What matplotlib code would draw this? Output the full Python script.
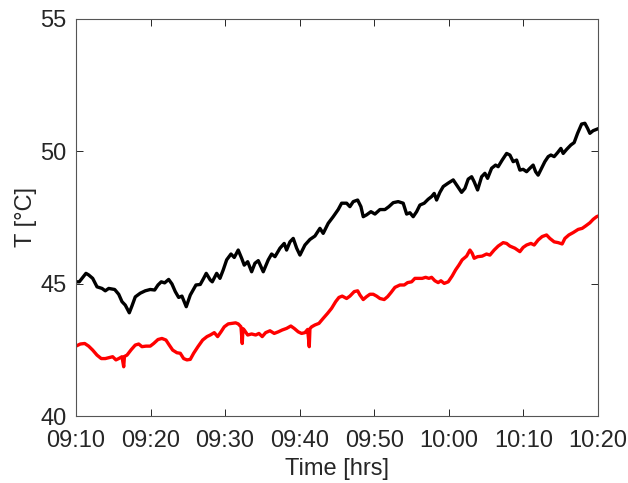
import matplotlib
matplotlib.use("Agg")
import matplotlib.pyplot as plt
import matplotlib.dates as mdates
import pandas as pd

# Start of the logging window; time values below are minutes after this
T0 = pd.Timestamp("2020-01-01 09:10")

upper_min = [0.0, 0.44, 1.34, 1.70, 2.24, 2.82, 3.49, 3.93, 4.39, 5.19, 5.73, 6.17, 6.61, 7.15, 7.51,
             7.95, 8.62, 9.29, 9.96, 10.55, 11.00, 11.44, 11.89, 12.43, 12.87, 13.32, 13.77, 14.21,
             14.79, 15.33, 16.09, 16.67, 17.12, 17.47, 18.01, 18.28, 18.87, 19.31, 19.75, 20.21,
             20.79, 21.23, 21.76, 22.22, 22.57, 23.03, 23.56, 24.00, 24.45, 25.12, 25.79, 26.24,
             26.69, 27.36, 27.93, 28.25, 28.70, 29.14, 29.60, 30.04, 30.71, 31.38, 32.05, 32.72,
             33.16, 33.83, 34.50, 35.17, 35.63, 36.30, 36.74, 37.19, 37.78, 38.22, 38.53, 38.98,
             39.56, 40.10, 40.77, 41.44, 41.97, 42.55, 43.22, 43.89, 44.35, 44.79, 45.23, 45.69,
             46.13, 46.71, 47.24, 47.70, 48.05, 48.37, 48.81, 49.26, 49.93, 50.60, 51.19, 51.72,
             52.17, 52.61, 53.07, 53.41, 53.87, 54.41, 54.85, 55.21, 55.75, 56.28, 56.63, 57.17,
             57.76, 58.20, 58.64, 59.10, 59.54, 59.98, 60.44, 60.88, 61.32, 61.65, 61.99, 62.45,
             62.89, 63.34, 63.70, 64.14, 64.60, 65.04, 65.35, 65.80, 66.38, 66.82, 67.28, 67.82,
             68.26, 68.62, 68.93, 69.37, 69.83, 70.0]
upper_T = [45.07, 45.07, 45.39, 45.33, 45.20, 44.88, 44.82, 44.73, 44.82, 44.78, 44.60, 44.32, 44.19,
           43.90, 44.16, 44.50, 44.64, 44.73, 44.78, 44.76, 44.95, 45.07, 45.03, 45.16, 44.99, 44.70,
           44.48, 44.53, 44.13, 44.57, 44.95, 44.97, 45.20, 45.39, 45.14, 45.07, 45.39, 45.20, 45.52,
           45.90, 46.12, 45.99, 46.27, 45.96, 45.70, 45.83, 45.45, 45.77, 45.87, 45.45, 45.90, 46.12,
           46.02, 46.34, 46.52, 46.27, 46.58, 46.71, 46.34, 46.08, 46.46, 46.67, 46.80, 47.09, 46.90,
           47.28, 47.53, 47.80, 48.04, 48.04, 47.91, 48.10, 48.16, 47.91, 47.53, 47.60, 47.72, 47.63,
           47.80, 47.80, 47.91, 48.06, 48.10, 48.04, 47.63, 47.68, 47.53, 47.72, 47.97, 48.04, 48.19,
           48.29, 48.41, 48.16, 48.45, 48.67, 48.80, 48.92, 48.67, 48.45, 48.60, 48.95, 49.04, 48.85,
           48.54, 49.04, 49.17, 48.98, 49.36, 49.48, 49.42, 49.67, 49.92, 49.86, 49.61, 49.67, 49.29,
           49.32, 49.23, 49.36, 49.48, 49.23, 49.10, 49.36, 49.61, 49.80, 49.86, 49.80, 49.95, 50.11,
           49.92, 50.07, 50.24, 50.33, 50.68, 51.03, 51.06, 50.87, 50.68, 50.78, 50.83, 50.85]

lower_min = [0.0, 0.58, 1.17, 1.70, 2.24, 2.82, 3.39, 3.93, 4.47, 4.92, 5.36, 5.73, 6.17, 6.40, 6.50,
             6.84, 7.42, 7.95, 8.41, 8.85, 9.39, 9.96, 10.42, 11.00, 11.53, 12.07, 12.51, 12.97,
             13.54, 13.99, 14.44, 14.88, 15.33, 15.78, 16.36, 16.99, 17.57, 18.01, 18.55, 19.00,
             19.45, 19.89, 20.42, 20.96, 21.41, 21.76, 22.13, 22.30, 22.40, 22.57, 23.03, 23.56,
             24.10, 24.54, 24.98, 25.44, 26.02, 26.59, 27.13, 27.66, 28.25, 28.82, 29.27, 29.81,
             30.26, 30.71, 31.07, 31.29, 31.38, 31.61, 32.05, 32.59, 33.16, 33.75, 34.29, 34.83,
             35.27, 35.71, 36.30, 36.74, 37.32, 37.78, 38.09, 38.53, 38.98, 39.43, 39.87, 40.32,
             40.77, 41.34, 41.80, 42.24, 42.78, 43.45, 44.03, 44.48, 45.02, 45.46, 46.00, 46.44,
             46.90, 47.34, 47.70, 48.14, 48.58, 48.95, 49.39, 49.93, 50.46, 50.92, 51.36, 51.80,
             52.39, 52.84, 53.14, 53.41, 53.87, 54.48, 55.07, 55.52, 56.09, 56.63, 57.30, 57.76,
             58.20, 58.87, 59.54, 59.98, 60.44, 61.02, 61.46, 61.99, 62.53, 63.12, 63.56, 64.14,
             64.68, 65.21, 65.58, 66.11, 66.69, 67.36, 67.90, 68.36, 68.93, 69.37, 69.83, 70.0]
lower_T = [42.64, 42.72, 42.74, 42.64, 42.49, 42.30, 42.17, 42.17, 42.21, 42.24, 42.12, 42.17, 42.24,
           41.86, 42.25, 42.30, 42.51, 42.68, 42.72, 42.62, 42.64, 42.64, 42.74, 42.89, 42.93, 42.87,
           42.68, 42.49, 42.39, 42.37, 42.17, 42.12, 42.14, 42.37, 42.62, 42.87, 43.00, 43.06, 43.15,
           43.00, 43.18, 43.37, 43.48, 43.50, 43.52, 43.48, 43.37, 42.74, 43.30, 43.25, 43.06, 43.10,
           43.06, 43.12, 43.00, 43.15, 43.22, 43.12, 43.18, 43.25, 43.31, 43.40, 43.31, 43.18, 43.12,
           43.15, 43.27, 42.62, 43.30, 43.37, 43.44, 43.50, 43.69, 43.88, 44.07, 44.32, 44.48, 44.53,
           44.44, 44.53, 44.70, 44.73, 44.57, 44.40, 44.51, 44.60, 44.60, 44.53, 44.44, 44.40, 44.51,
           44.66, 44.86, 44.95, 44.95, 45.04, 45.07, 45.20, 45.20, 45.20, 45.24, 45.20, 45.24, 45.11,
           45.04, 45.11, 45.01, 45.07, 45.29, 45.52, 45.70, 45.90, 46.04, 46.27, 46.15, 45.96, 46.02,
           46.04, 46.12, 46.08, 46.27, 46.42, 46.55, 46.52, 46.42, 46.34, 46.21, 46.37, 46.46, 46.52,
           46.46, 46.65, 46.78, 46.84, 46.71, 46.58, 46.55, 46.50, 46.71, 46.84, 46.93, 47.05, 47.09,
           47.18, 47.30, 47.43, 47.53, 47.55]

x_ticks = ["09:10", "09:20", "09:30", "09:40", "09:50", "10:00", "10:10", "10:20"]
y_ticks = [40, 45, 50, 55]

plt.rcParams["font.family"] = ["Liberation Sans", "DejaVu Sans"]
AX_COL = "#262626"
FS = 17

t_up = T0 + pd.to_timedelta(upper_min, unit="min")
t_lo = T0 + pd.to_timedelta(lower_min, unit="min")

fig = plt.figure(figsize=(6.28, 4.83), dpi=100)
ax = fig.add_axes([0.121, 0.1387, 0.831, 0.822])

ax.plot(t_up, upper_T, color="black", lw=2.4, solid_joinstyle="round")
ax.plot(t_lo, lower_T, color="red", lw=2.4, solid_joinstyle="round")

tick_times = [pd.Timestamp(f"2020-01-01 {s}") for s in x_ticks]
ax.set_xlim(tick_times[0], tick_times[-1])
ax.set_xticks(tick_times)
ax.xaxis.set_major_formatter(mdates.DateFormatter("%H:%M"))
ax.set_ylim(40, 55)
ax.set_yticks(y_ticks)

ax.tick_params(direction="in", length=5, width=0.7, colors=AX_COL,
               labelsize=FS, top=True, right=True, labeltop=False, labelright=False)
ax.tick_params(axis="x", pad=10)
ax.tick_params(axis="y", pad=7)
for s in ax.spines.values():
    s.set_color("#555555")
    s.set_linewidth(0.8)

ax.set_xlabel("Time [hrs]", fontsize=FS, color=AX_COL, labelpad=4.5)
ax.set_ylabel("T [°C]", fontsize=FS, color=AX_COL, labelpad=2)

fig.savefig("out.png", dpi=100)
